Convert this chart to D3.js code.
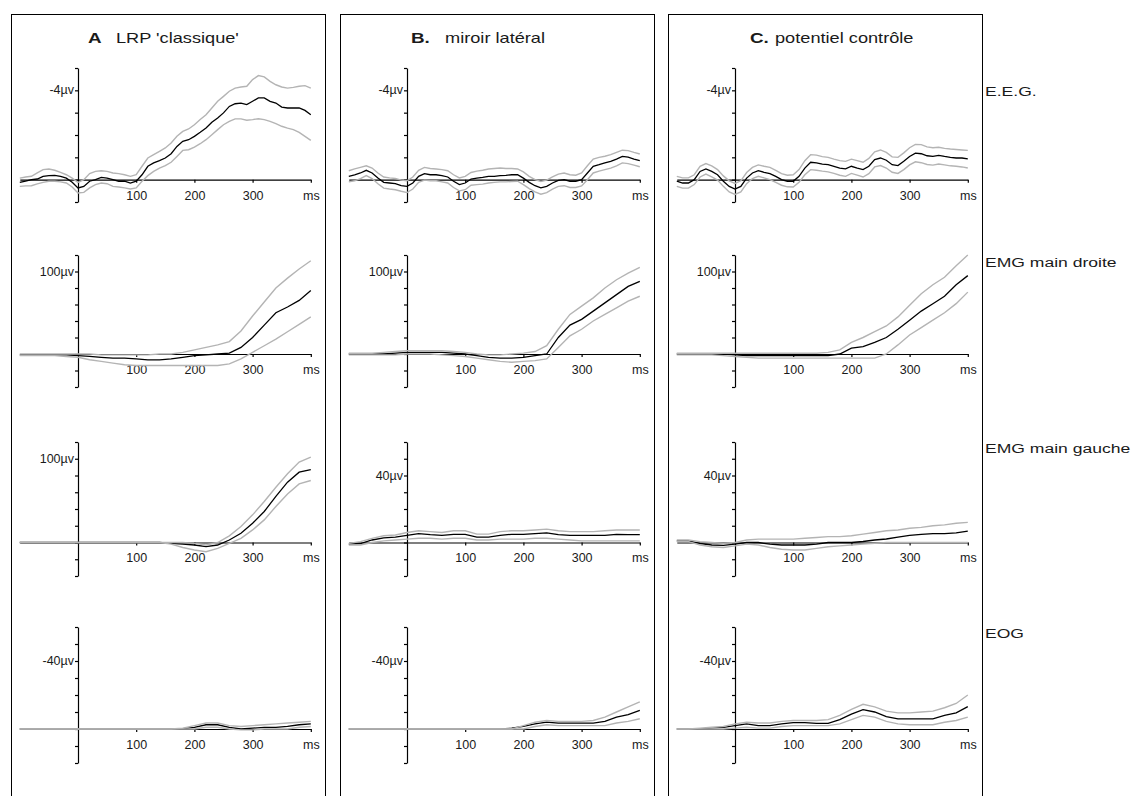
<!DOCTYPE html>
<html lang="fr">
<head>
  <meta charset="utf-8">
  <title>LRP classique / miroir latéral / potentiel contrôle</title>
  <script src="https://d3js.org/d3.v7.min.js"></script>
  <style>
    body { margin: 0; background: #fff; }
    text { font-family: "Liberation Sans", Arial, sans-serif; fill: #1a1a1a; }
    .frame { fill: none; stroke: #000; stroke-width: 1; }
    .band { fill: none; stroke: #b4b4b4; stroke-width: 1.4; }
    .mean { fill: none; stroke: #000; stroke-width: 1.3; }
    .axis path, .axis line { stroke: #000; stroke-width: 1.2; }
    .axis text { font-size: 12.5px; fill: #1a1a1a; }
    .ylab { font-size: 12.5px; }
  </style>
</head>
<body>
<script>
// ---- data (µV) ----
var ms10 = [-100,-90,-80,-70,-60,-50,-40,-30,-20,-10,0,10,20,30,40,50,60,70,80,90,100,110,120,130,140,150,160,170,180,190,
            200,210,220,230,240,250,260,270,280,290,300,310,320,330,340,350,360,370,380,390,400];
var ms20 = [-100,-80,-60,-40,-20,0,20,40,60,80,100,120,140,160,180,200,220,240,260,280,300,320,340,360,380,400];

// E.E.G.
var eegA_mean  = [0.12,0.07,0,-0.03,-0.15,-0.18,-0.19,-0.15,-0.07,0.12, 0.37,0.3,0.07,0,-0.1,-0.07,0,0.07,0.07,0.15,
                  0.07,-0.22,-0.6,-0.75,-0.85,-0.97,-1.16,-1.49,-1.72,-1.79, -1.94,-2.12,-2.31,-2.57,-2.76,-2.99,-3.28,-3.4,-3.43,-3.36,
                  -3.51,-3.66,-3.66,-3.51,-3.43,-3.25,-3.21,-3.21,-3.21,-3.1,-2.91];
var eegA_upper = [-0.07,-0.12,-0.15,-0.3,-0.45,-0.48,-0.42,-0.33,-0.22,-0.07, 0.12,0,-0.27,-0.37,-0.4,-0.37,-0.3,-0.27,-0.22,-0.15,
                  -0.22,-0.6,-0.97,-1.12,-1.27,-1.42,-1.64,-1.94,-2.16,-2.27, -2.46,-2.69,-2.91,-3.21,-3.51,-3.73,-3.96,-4.1,-4.15,-4.18,
                  -4.48,-4.66,-4.6,-4.4,-4.25,-4.15,-4.1,-4.13,-4.18,-4.21,-4.1];
var eegA_lower = [0.3,0.28,0.27,0.19,0.12,0.07,0.07,0.1,0.15,0.33, 0.6,0.57,0.37,0.22,0.15,0.18,0.3,0.33,0.37,0.42,
                  0.37,0.07,-0.18,-0.37,-0.52,-0.63,-0.78,-1.04,-1.31,-1.34, -1.46,-1.61,-1.79,-2.01,-2.24,-2.46,-2.61,-2.72,-2.72,-2.66,
                  -2.69,-2.73,-2.69,-2.61,-2.51,-2.39,-2.31,-2.24,-2.12,-1.94,-1.76];

var eegB_mean  = [-0.15,-0.22,-0.3,-0.42,-0.3,-0.07,0.12,0.15,0.18,0.27, 0.3,0.15,-0.15,-0.27,-0.22,-0.22,-0.18,-0.12,0.07,0.22,
                  0.15,-0.03,-0.07,-0.1,-0.15,-0.15,-0.18,-0.19,-0.22,-0.22, -0.07,0.12,0.27,0.37,0.3,0.15,0.03,0,0.07,0.07,
                  0,-0.3,-0.6,-0.67,-0.75,-0.82,-0.92,-1.04,-1.01,-0.92,-0.85];
var eegB_upper = [-0.4,-0.48,-0.55,-0.62,-0.52,-0.3,-0.12,-0.08,-0.05,0.02, 0.05,-0.12,-0.42,-0.55,-0.5,-0.48,-0.45,-0.4,-0.22,-0.08,
                  -0.15,-0.32,-0.38,-0.42,-0.48,-0.5,-0.52,-0.5,-0.5,-0.48, -0.35,-0.15,0,0.08,0.02,-0.12,-0.25,-0.3,-0.22,-0.2,
                  -0.3,-0.62,-0.92,-1.0,-1.05,-1.12,-1.22,-1.32,-1.3,-1.22,-1.15];
var eegB_lower = [0.1,0.05,-0.05,-0.18,-0.05,0.18,0.38,0.42,0.45,0.52, 0.58,0.42,0.12,0.02,0.05,0.05,0.1,0.15,0.35,0.5,
                  0.45,0.25,0.22,0.2,0.15,0.12,0.1,0.1,0.08,0.07, 0.22,0.4,0.55,0.65,0.58,0.42,0.3,0.27,0.35,0.35,
                  0.28,0,-0.3,-0.38,-0.45,-0.52,-0.62,-0.75,-0.72,-0.65,-0.58];

var eegC_mean  = [0.07,0.15,0.15,0,-0.37,-0.48,-0.37,-0.22,0.07,0.3, 0.42,0.3,-0.07,-0.3,-0.4,-0.33,-0.27,-0.15,0,0.07,
                  0.07,-0.15,-0.52,-0.78,-0.75,-0.7,-0.67,-0.6,-0.52,-0.48, -0.6,-0.52,-0.45,-0.6,-0.9,-0.97,-0.87,-0.67,-0.63,-0.82,
                  -1.04,-1.19,-1.16,-1.07,-1.04,-1.09,-1.04,-1.0,-0.97,-0.97,-0.93];
var eegC_upper = [-0.15,-0.08,-0.08,-0.22,-0.6,-0.72,-0.62,-0.45,-0.17,0.05, 0.17,0.05,-0.32,-0.55,-0.66,-0.6,-0.55,-0.42,-0.27,-0.2,
                  -0.22,-0.45,-0.85,-1.12,-1.1,-1.03,-1.0,-0.92,-0.85,-0.82, -0.92,-0.85,-0.78,-0.95,-1.25,-1.33,-1.22,-1.02,-1.0,-1.2,
                  -1.43,-1.58,-1.57,-1.47,-1.43,-1.45,-1.4,-1.37,-1.35,-1.33,-1.31];
var eegC_lower = [0.3,0.38,0.38,0.22,-0.12,-0.25,-0.12,0.02,0.3,0.55, 0.66,0.55,0.18,-0.05,-0.15,-0.08,0,0.12,0.25,0.32,
                  0.33,0.12,-0.22,-0.45,-0.42,-0.38,-0.35,-0.28,-0.2,-0.15, -0.28,-0.2,-0.12,-0.27,-0.57,-0.63,-0.52,-0.33,-0.28,-0.45,
                  -0.66,-0.8,-0.76,-0.68,-0.65,-0.7,-0.66,-0.62,-0.6,-0.57,-0.52];

// EMG main droite
var emgdA_mean  = [-1,-1,-1,-1,-1,-2,-3,-4,-5,-5,-6,-7,-7,-6,-4,-2,-1,0,1,8,20,35,50,57,65,77];
var emgdA_upper = [0,0,0,0,0,0,0,-1,-1,-1,-1,-1,0,0,2,5,8,11,15,28,46,63,80,92,103,113];
var emgdA_lower = [-2,-2,-2,-2,-3,-4,-7,-9,-11,-13,-14,-14,-14,-14,-14,-14,-14,-14,-12,-6,2,10,18,27,36,45];
var emgdB_mean  = [0,0,0,0,1,2,2,2,2,1,0,-2,-4,-5,-5,-4,-2,0,20,35,42,52,62,72,82,88];
var emgdB_upper = [1,1,1,2,3,4,4,4,4,3,2,0,-1,-1,0,1,3,10,30,48,58,68,80,90,98,105];
var emgdB_lower = [-1,-1,-1,-1,-1,0,0,0,-1,-2,-3,-5,-7,-9,-10,-9,-8,-6,8,22,30,40,48,56,64,70];
var emgdC_mean  = [0,0,0,0,0,-1,-2,-2,-2,-2,-2,-2,-2,-2,0,7,9,14,20,30,41,52,61,70,84,95];
var emgdC_upper = [1,1,1,1,1,1,1,1,1,1,1,1,1,2,5,14,20,27,34,45,59,73,84,93,107,120];
var emgdC_lower = [-1,-1,-1,-1,-2,-3,-4,-5,-5,-5,-5,-5,-5,-5,-5,-5,-5,-5,0,11,23,32,41,50,61,75];

// EMG main gauche
var emggA_mean  = [0,0,0,0,0,0,0,0,0,0,0,0,0,-1,-2,-3,-5,-3,3,11,23,37,55,72,84,87];
var emggA_upper = [0,0,0,0,0,0,0,0,0,0,0,0,0,0,0,-1,-3,0,8,19,33,49,66,82,96,102];
var emggA_lower = [0,0,0,0,0,0,0,0,0,0,0,0,0,-2,-6,-9,-11,-7,-1,5,15,27,43,58,70,74];
var emggB_mean  = [-1,-0.6,1.5,2.8,3.2,4.3,5.3,4.7,4.3,4.9,4.9,3.2,3.2,4.3,4.9,4.9,5.3,5.7,4.7,4.3,4.3,4.3,4.3,4.9,4.7,4.7];
var emggB_upper = [-0.5,0.5,2.5,4,4.5,6,7,6.5,6,7,7,5,5,6.5,7,7,7.5,8,7,6.5,6.5,6.5,7,7.5,7.5,7.5];
var emggB_lower = [-1.5,-1.5,0,1,1.5,2,2.5,2.5,2,2.5,2.5,1.5,1.5,2,2,2,2.5,2.5,2,1.5,1,1,1,1,1,1];
var emggC_mean  = [1,1,-0.6,-1.5,-1.7,-1,0,0,-1,-1.5,-1.5,-1.5,-1,0,0,0,0.6,1.5,2.1,3.2,4.3,4.9,5.3,5.3,5.7,6.8];
var emggC_upper = [1.5,1.5,0.5,0,-0.5,0,1.5,2,2,2,2,2.5,3,3.5,3.5,4,5,6,7,7.5,8.5,9,10,10.5,11.5,12];
var emggC_lower = [0.5,0.5,-1.5,-2.5,-3,-2,-1,-1.5,-3,-4,-4.5,-4.5,-3.5,-2.5,-2,-1.5,-1,-0.5,0,0,0,0,0,0,0,0];

// EOG
var eogA_mean  = [0,0,0,0,0,0,0,0,0,0,0,0,0,0,0,-1,-2.5,-2.5,-1,0,-0.5,-1,-1,-1.5,-2.5,-3];
var eogA_upper = [0,0,0,0,0,0,0,0,0,0,0,0,0,0,-0.5,-2,-3.5,-3.5,-2,-1.5,-2,-2.5,-3,-3.5,-4,-4.5];
var eogA_lower = [0,0,0,0,0,0,0,0,0,0,0,0,0,0,0,0,-1,-1,0,0.5,0.5,0,0,0,-1,-1.5];
var eogB_mean  = [0,0,0,0,0,0,0,0,0,0,0,0,0,0,-0.5,-1.5,-3,-4,-3.5,-3.5,-3.5,-3.5,-4.5,-7,-8.5,-11];
var eogB_upper = [0,0,0,0,0,0,0,0,0,0,0,0,0,0,0,-2,-4,-5,-4.5,-4.5,-4.5,-5,-7,-10,-13,-16];
var eogB_lower = [0,0,0,0,0,0,0,0,0,0,0,0,0,0,0,0,-1.5,-2.5,-2,-2,-2,-2,-2,-3.5,-4.5,-6];
var eogC_mean  = [0,0,0,-0.5,-1,-2,-3,-2,-2,-3,-3.7,-3.7,-3.3,-3.3,-5.5,-8.8,-11.4,-10,-7.3,-6,-6,-6,-6,-8,-9.5,-13.2];
var eogC_upper = [0,0,-0.5,-1,-1.5,-3,-4,-3.5,-3.5,-4.5,-5,-5,-5,-5.5,-8,-11.5,-14.5,-13,-10.5,-9.5,-9.5,-10,-10.5,-12.5,-15,-20];
var eogC_lower = [0,0,0,0,0,-0.5,-1,-0.5,-0.5,-1.5,-2,-2,-2,-2,-3,-5.5,-8,-7,-4.5,-3,-2.5,-2.5,-2.5,-4,-5,-7];

// labels / axes
var titles = [['A', "LRP 'classique'"], ['B.', 'miroir latéral'], ['C.', 'potentiel contrôle']];
var rowNames = ['E.E.G.', 'EMG main droite', 'EMG main gauche', 'EOG'];
var xTicks = [100, 200, 300, 400];
var xTickLabels = ['100', '200', '300', 'ms'];
// y domains are [bottom, top] : EEG and EOG are plotted negative up
var yDomains = [
  [[1, -5], [1, -5], [1, -5]],
  [[-40, 120], [-40, 120], [-40, 120]],
  [[-40, 120], [-20, 60], [-20, 60]],
  [[20, -60], [20, -60], [20, -60]]
];
var yTicks = [
  [[1,0,-1,-2,-3,-4,-5], [1,0,-1,-2,-3,-4,-5], [1,0,-1,-2,-3,-4,-5]],
  [[-40,-20,0,20,40,60,80,100,120], [-40,-20,0,20,40,60,80,100,120], [-40,-20,0,20,40,60,80,100,120]],
  [[-40,-20,0,20,40,60,80,100,120], [-20,-10,0,10,20,30,40,50,60], [-20,-10,0,10,20,30,40,50,60]],
  [[20,10,0,-10,-20,-30,-40,-50,-60], [20,10,0,-10,-20,-30,-40,-50,-60], [20,10,0,-10,-20,-30,-40,-50,-60]]
];
var yLabelValues = [[-4, -4, -4], [100, 100, 100], [100, 40, 40], [-40, -40, -40]];
var yLabelTexts = [['-4µv', '-4µv', '-4µv'], ['100µv', '100µv', '100µv'], ['100µv', '40µv', '40µv'], ['-40µv', '-40µv', '-40µv']];

var series = [
  [{t: ms10, m: eegA_mean, u: eegA_upper, l: eegA_lower}, {t: ms10, m: eegB_mean, u: eegB_upper, l: eegB_lower}, {t: ms10, m: eegC_mean, u: eegC_upper, l: eegC_lower}],
  [{t: ms20, m: emgdA_mean, u: emgdA_upper, l: emgdA_lower}, {t: ms20, m: emgdB_mean, u: emgdB_upper, l: emgdB_lower}, {t: ms20, m: emgdC_mean, u: emgdC_upper, l: emgdC_lower}],
  [{t: ms20, m: emggA_mean, u: emggA_upper, l: emggA_lower}, {t: ms20, m: emggB_mean, u: emggB_upper, l: emggB_lower}, {t: ms20, m: emggC_mean, u: emggC_upper, l: emggC_lower}],
  [{t: ms20, m: eogA_mean, u: eogA_upper, l: eogA_lower}, {t: ms20, m: eogB_mean, u: eogB_upper, l: eogB_lower}, {t: ms20, m: eogC_mean, u: eogC_upper, l: eogC_lower}]
];

// ---- layout ----
var width = 1146, height = 796;
var colLeft = [11, 340, 668], colWidth = 314, colTop = 14;
var zeroX = [78, 407, 735], msPx = 0.582;   // px per ms
var rowTop = [68, 255, 442, 627], rowBottom = [202, 387, 576, 763];
var rowLabelY = [96, 267, 453, 638];
var stretch = 1.3;  // the labels of the figure are drawn wide

var svg = d3.select('body').append('svg')
            .attr('width', width)
            .attr('height', height);

function wideText(sel, x, y, str, size, bold) {
  return sel.append('text')
     .attr('transform', 'translate(' + [x, y] + ') scale(' + stretch + ',1)')
     .style('font-size', size + 'px')
     .style('font-weight', bold ? 'bold' : 'normal')
     .text(str);
}

// frames + titles
colLeft.forEach(function(left, c) {
  svg.append('rect').attr('class', 'frame')
     .attr('x', left + 0.5).attr('y', colTop + 0.5)
     .attr('width', colWidth).attr('height', height);
});
var titleX = [[88, 116], [411, 445], [750, 775]];
titles.forEach(function(t, c) {
  wideText(svg, titleX[c][0], 43, t[0], 14.5, true);
  wideText(svg, titleX[c][1], 43, t[1], 14, false);
});

// row names on the right
rowNames.forEach(function(name, r) {
  wideText(svg, 985, rowLabelY[r], name, 13.5, false);
});

var line = d3.line();

rowNames.forEach(function(name, r) {
  for (var c = 0; c < 3; c++) {
    var x = d3.scaleLinear().domain([-100, 400]).range([zeroX[c] - 100 * msPx, zeroX[c] + 400 * msPx]);
    var y = d3.scaleLinear().domain(yDomains[r][c]).range([rowBottom[r], rowTop[r]]);
    var g = svg.append('g');

    g.append('g').attr('class', 'axis')
     .attr('transform', 'translate(' + [x(0), 0] + ')')
     .call(d3.axisLeft(y).tickValues(yTicks[r][c]).tickSize(3).tickSizeOuter(0).tickFormat(''));

    g.append('g').attr('class', 'axis')
     .attr('transform', 'translate(' + [0, y(0)] + ')')
     .call(d3.axisBottom(x).tickValues(xTicks).tickSize(3).tickSizeOuter(0).tickPadding(8)
             .tickFormat(function(d, i) { return xTickLabels[i]; }));

    g.append('text').attr('class', 'ylab')
     .attr('x', x(0) - 4).attr('y', y(yLabelValues[r][c]) + 4)
     .attr('text-anchor', 'end')
     .text(yLabelTexts[r][c]);

    // mean first, the grey limits are drawn over it (as in the figure)
    var s = series[r][c];
    line.x(function(d) { return x(d[0]); }).y(function(d) { return y(d[1]); });
    g.append('path').attr('class', 'mean').attr('d', line(d3.zip(s.t, s.m)));
    g.append('path').attr('class', 'band').attr('d', line(d3.zip(s.t, s.u)));
    g.append('path').attr('class', 'band').attr('d', line(d3.zip(s.t, s.l)));
  }
});
</script>
</body>
</html>
